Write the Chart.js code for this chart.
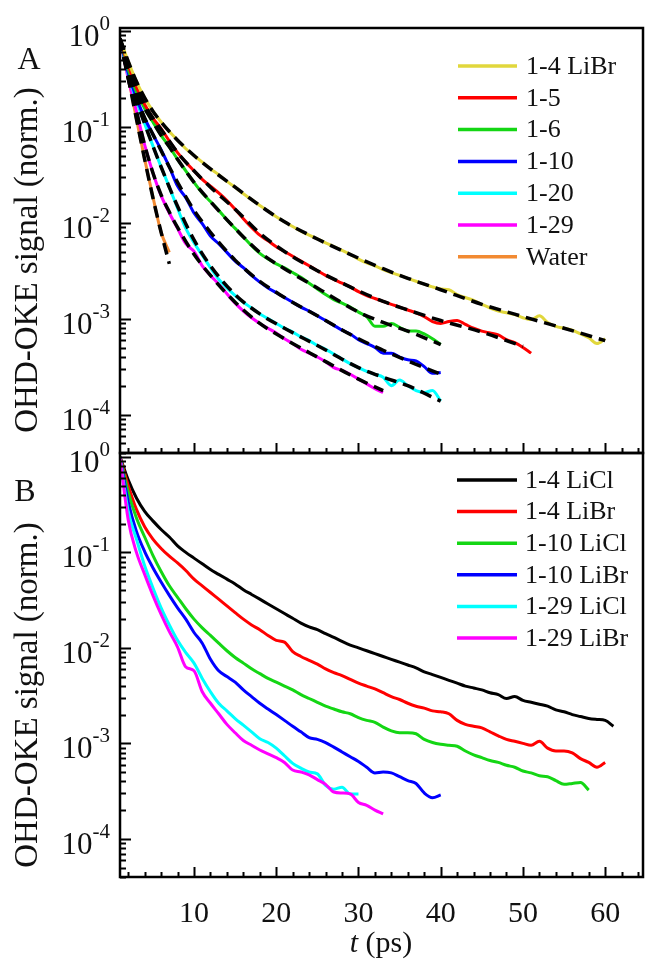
<!DOCTYPE html>
<html>
<head>
<meta charset="utf-8">
<script src="https://cdn.jsdelivr.net/npm/chart.js@4.4.0/dist/chart.umd.min.js"></script>
<style>
  html, body { margin: 0; padding: 0; background: #fff; }
  #wrap { position: relative; width: 648px; height: 961px; overflow: hidden; }
  #wrap canvas { position: absolute; left: 0; }
  #panelA { top: 0; }
  #panelB { top: 440px; }
</style>
</head>
<body>
<div id="wrap">
  <canvas id="panelA" width="648" height="470"></canvas>
  <canvas id="panelB" width="648" height="521"></canvas>
</div>
<script>
// time grid (ps) shared by the measured traces
const tGrid = [1, 2, 3, 4, 5, 6, 7, 8, 9, 10, 11, 12, 13, 14, 15, 16, 17, 18, 19, 20,
  21, 22, 23, 24, 25, 26, 27, 28, 29, 30, 31, 32, 33, 34, 35, 36, 37, 38, 39, 40,
  41, 42, 43, 44, 45, 46, 47, 48, 49, 50, 51, 52, 53, 54, 55, 56, 57, 58, 59, 60, 61];

// time points of the fitted curves
const fitT = [1, 2, 3, 4, 5, 6, 7, 8, 10, 12, 15, 18, 21, 25, 30, 33, 36, 40, 45, 50, 55, 60];

// panel A: LiBr solutions of different concentration + water
const labelsA = ['1-4 LiBr', '1-5', '1-6', '1-10', '1-20', '1-29', 'Water'];
const colorsA = ['#e1d73c', '#ff0000', '#14d614', '#0000ff', '#00ffff', '#ff00ff', '#f28a32'];

const libr4A = [0.83, 0.48, 0.295, 0.200, 0.145, 0.112, 0.0891, 0.0724, 0.0589, 0.0501,
  0.0427, 0.0363, 0.0316, 0.0269, 0.0234, 0.0200, 0.0174, 0.0151, 0.0132, 0.0115,
  0.0102, 9.12e-3, 8.13e-3, 7.41e-3, 6.76e-3, 6.17e-3, 5.62e-3, 5.13e-3, 4.68e-3, 4.17e-3,
  3.80e-3, 3.55e-3, 3.24e-3, 3.02e-3, 2.82e-3, 2.63e-3, 2.45e-3, 2.29e-3, 2.14e-3, 2.04e-3,
  2.00e-3, 1.78e-3, 1.66e-3, 1.55e-3, 1.41e-3, 1.29e-3, 1.20e-3, 1.15e-3, 1.10e-3, 1.02e-3,
  9.77e-4, 1.07e-3, 9.12e-4, 8.32e-4, 7.94e-4, 7.59e-4, 6.92e-4, 6.31e-4, 5.50e-4, 6.17e-4];
const r5A = [0.83, 0.437, 0.257, 0.170, 0.123, 0.0955, 0.0708, 0.0537, 0.0427, 0.0347,
  0.0282, 0.0240, 0.0204, 0.0170, 0.0138, 0.0110, 8.91e-3, 7.41e-3, 6.46e-3, 5.62e-3,
  5.01e-3, 4.47e-3, 3.98e-3, 3.55e-3, 3.16e-3, 2.82e-3, 2.57e-3, 2.34e-3, 2.14e-3, 1.91e-3,
  1.74e-3, 1.62e-3, 1.51e-3, 1.41e-3, 1.32e-3, 1.23e-3, 1.15e-3, 1.05e-3, 9.33e-4, 8.91e-4,
  9.33e-4, 9.55e-4, 8.71e-4, 7.94e-4, 7.41e-4, 7.08e-4, 6.76e-4, 6.03e-4, 5.62e-4, 5.01e-4,
  4.37e-4];
const r6A = [0.83, 0.398, 0.229, 0.155, 0.112, 0.0813, 0.0617, 0.0457, 0.0347, 0.0263,
  0.0204, 0.0166, 0.0135, 0.0107, 8.71e-3, 7.08e-3, 5.75e-3, 4.79e-3, 4.17e-3, 3.72e-3,
  3.39e-3, 3.02e-3, 2.69e-3, 2.34e-3, 2.04e-3, 1.78e-3, 1.58e-3, 1.45e-3, 1.32e-3, 1.17e-3,
  1.05e-3, 8.32e-4, 8.32e-4, 8.91e-4, 8.13e-4, 7.41e-4, 7.41e-4, 6.92e-4, 6.17e-4, 5.37e-4];
const r10A = [0.83, 0.363, 0.200, 0.123, 0.0832, 0.0575, 0.0380, 0.0240, 0.0182, 0.0126,
  9.77e-3, 7.24e-3, 6.03e-3, 4.90e-3, 3.98e-3, 3.39e-3, 2.82e-3, 2.40e-3, 2.09e-3, 1.86e-3,
  1.66e-3, 1.48e-3, 1.32e-3, 1.20e-3, 1.07e-3, 9.55e-4, 8.51e-4, 7.59e-4, 6.92e-4, 6.03e-4,
  5.50e-4, 5.01e-4, 4.37e-4, 4.37e-4, 3.98e-4, 3.72e-4, 3.63e-4, 3.16e-4, 2.69e-4, 2.75e-4];
const r20A = [0.83, 0.347, 0.186, 0.107, 0.0631, 0.0380, 0.0234, 0.0141, 8.71e-3, 6.17e-3,
  4.57e-3, 3.39e-3, 2.57e-3, 2.09e-3, 1.74e-3, 1.48e-3, 1.29e-3, 1.12e-3, 1.00e-3, 8.91e-4,
  7.94e-4, 7.24e-4, 6.46e-4, 5.89e-4, 5.25e-4, 4.79e-4, 4.27e-4, 3.80e-4, 3.39e-4, 3.09e-4,
  2.82e-4, 2.63e-4, 2.45e-4, 2.00e-4, 2.29e-4, 2.00e-4, 1.78e-4, 1.70e-4, 1.78e-4, 1.38e-4];
const r29A = [0.83, 0.316, 0.145, 0.0646, 0.0331, 0.0191, 0.0126, 8.71e-3, 6.03e-3, 5.01e-3,
  3.55e-3, 2.82e-3, 2.29e-3, 1.82e-3, 1.45e-3, 1.20e-3, 1.02e-3, 8.91e-4, 7.94e-4, 7.08e-4,
  6.17e-4, 5.50e-4, 4.79e-4, 4.37e-4, 3.98e-4, 3.55e-4, 3.09e-4, 2.88e-4, 2.63e-4, 2.34e-4,
  2.09e-4, 1.86e-4, 1.70e-4];
const waterA = [0.83, 0.331, 0.120, 0.0457, 0.0186, 7.94e-3, 4.90e-3];

// fitted curves (dashed), sampled on fitT
const libr4Fit = [0.83, 0.48, 0.295, 0.200, 0.145, 0.112, 0.0891, 0.0724, 0.0501, 0.0363, 0.0234,
  0.0151, 0.0102, 6.76e-3, 4.27e-3, 3.31e-3, 2.63e-3, 2.00e-3, 1.41e-3, 1.05e-3, 7.94e-4, 5.89e-4];
const r5Fit = [0.83, 0.437, 0.257, 0.170, 0.123, 0.0933, 0.0708, 0.0537, 0.0347, 0.0234, 0.0138,
  7.76e-3, 5.01e-3, 3.16e-3, 1.95e-3, 1.51e-3, 1.23e-3, 9.55e-4, 7.24e-4, 5.13e-4];
const r6Fit = [0.83, 0.398, 0.229, 0.155, 0.112, 0.0813, 0.0617, 0.0457, 0.0263, 0.0166, 8.71e-3,
  4.90e-3, 3.31e-3, 2.09e-3, 1.17e-3, 9.12e-4, 7.41e-4, 5.37e-4];
const r10Fit = [0.83, 0.363, 0.204, 0.123, 0.0832, 0.0562, 0.0380, 0.0263, 0.0135, 7.94e-3, 4.07e-3,
  2.45e-3, 1.66e-3, 1.07e-3, 6.17e-4, 4.68e-4, 3.63e-4, 2.63e-4];
const r20Fit = [0.83, 0.347, 0.186, 0.107, 0.0631, 0.0380, 0.0234, 0.0148, 6.61e-3, 3.55e-3, 1.78e-3,
  1.12e-3, 7.94e-4, 5.25e-4, 3.09e-4, 2.45e-4, 2.00e-4, 1.38e-4];
const r29Fit = [0.83, 0.316, 0.145, 0.0646, 0.0331, 0.0195, 0.0129, 8.91e-3, 4.68e-3, 2.82e-3, 1.48e-3,
  8.91e-4, 6.17e-4, 3.98e-4, 2.34e-4, 1.78e-4];
const waterFit = [0.83, 0.324, 0.120, 0.0457, 0.0182, 7.94e-3, 3.72e-3];

// panel B: LiCl vs LiBr
const labelsB = ['1-4 LiCl', '1-4 LiBr', '1-10 LiCl', '1-10 LiBr', '1-29 LiCl', '1-29 LiBr'];
const colorsB = ['#000000', '#ff0000', '#14d614', '#0000ff', '#00ffff', '#ff00ff'];

const licl4B = [1.00, 0.575, 0.372, 0.269, 0.214, 0.174, 0.145, 0.117, 0.100, 0.0871,
  0.0759, 0.0661, 0.0589, 0.0525, 0.0468, 0.0407, 0.0363, 0.0324, 0.0288, 0.0257,
  0.0229, 0.0204, 0.0182, 0.0166, 0.0155, 0.0141, 0.0129, 0.0117, 0.0107, 0.0100,
  9.33e-3, 8.71e-3, 8.13e-3, 7.59e-3, 7.08e-3, 6.61e-3, 6.17e-3, 5.62e-3, 5.25e-3, 4.90e-3,
  4.57e-3, 4.27e-3, 3.98e-3, 3.80e-3, 3.63e-3, 3.39e-3, 3.24e-3, 2.95e-3, 3.09e-3, 2.82e-3,
  2.69e-3, 2.57e-3, 2.45e-3, 2.24e-3, 2.14e-3, 2.00e-3, 1.91e-3, 1.82e-3, 1.78e-3, 1.74e-3,
  1.51e-3];
const libr4B = [1.00, 0.501, 0.282, 0.186, 0.138, 0.110, 0.0912, 0.0776, 0.0646, 0.0525,
  0.0447, 0.0380, 0.0324, 0.0275, 0.0234, 0.0200, 0.0174, 0.0155, 0.0135, 0.0120,
  0.0115, 9.12e-3, 8.13e-3, 7.41e-3, 6.76e-3, 6.03e-3, 5.50e-3, 5.13e-3, 4.68e-3, 4.27e-3,
  3.98e-3, 3.72e-3, 3.39e-3, 3.09e-3, 2.88e-3, 2.63e-3, 2.45e-3, 2.34e-3, 2.19e-3, 2.14e-3,
  2.04e-3, 1.74e-3, 1.58e-3, 1.51e-3, 1.45e-3, 1.32e-3, 1.20e-3, 1.10e-3, 1.05e-3, 1.00e-3,
  9.55e-4, 1.05e-3, 8.91e-4, 8.32e-4, 8.32e-4, 7.94e-4, 6.92e-4, 6.31e-4, 5.62e-4, 6.31e-4];
const licl10B = [1.00, 0.427, 0.229, 0.145, 0.0933, 0.0631, 0.0447, 0.0339, 0.0257, 0.0200,
  0.0162, 0.0135, 0.0112, 9.33e-3, 7.94e-3, 6.92e-3, 6.03e-3, 5.37e-3, 4.79e-3, 4.37e-3,
  3.98e-3, 3.63e-3, 3.24e-3, 2.95e-3, 2.69e-3, 2.45e-3, 2.29e-3, 2.14e-3, 2.04e-3, 1.86e-3,
  1.74e-3, 1.66e-3, 1.48e-3, 1.35e-3, 1.29e-3, 1.29e-3, 1.26e-3, 1.10e-3, 1.02e-3, 9.77e-4,
  9.55e-4, 9.33e-4, 8.32e-4, 7.59e-4, 7.08e-4, 6.61e-4, 6.31e-4, 5.89e-4, 5.62e-4, 5.13e-4,
  4.90e-4, 4.57e-4, 4.47e-4, 4.07e-4, 3.72e-4, 3.80e-4, 3.89e-4, 3.24e-4];
const libr10B = [1.00, 0.339, 0.166, 0.102, 0.0692, 0.0490, 0.0355, 0.0263, 0.0200, 0.0145,
  0.0112, 7.59e-3, 5.75e-3, 5.01e-3, 4.37e-3, 3.63e-3, 3.09e-3, 2.63e-3, 2.29e-3, 2.00e-3,
  1.74e-3, 1.51e-3, 1.32e-3, 1.15e-3, 1.10e-3, 1.02e-3, 9.12e-4, 8.13e-4, 7.24e-4, 6.46e-4,
  5.62e-4, 4.90e-4, 5.01e-4, 4.90e-4, 4.47e-4, 4.07e-4, 3.80e-4, 3.02e-4, 2.69e-4, 2.88e-4];
const licl29B = [1.00, 0.269, 0.138, 0.0724, 0.0427, 0.0263, 0.0174, 0.0120, 8.91e-3, 6.92e-3,
  4.79e-3, 3.47e-3, 2.63e-3, 2.19e-3, 1.82e-3, 1.55e-3, 1.32e-3, 1.12e-3, 1.02e-3, 8.91e-4,
  7.41e-4, 6.17e-4, 5.50e-4, 5.01e-4, 4.79e-4, 3.63e-4, 3.31e-4, 3.47e-4, 2.95e-4, 2.95e-4];
const libr29B = [1.00, 0.219, 0.100, 0.0589, 0.0355, 0.0224, 0.0148, 0.0102, 6.31e-3, 5.75e-3,
  3.47e-3, 2.63e-3, 2.04e-3, 1.58e-3, 1.29e-3, 1.07e-3, 9.55e-4, 8.51e-4, 7.76e-4, 7.08e-4,
  6.31e-4, 5.25e-4, 5.01e-4, 4.68e-4, 4.17e-4, 3.72e-4, 3.09e-4, 3.02e-4, 2.95e-4, 2.40e-4,
  2.24e-4, 2.00e-4, 1.82e-4];

// axis ticks
const xMajor = [10, 20, 30, 40, 50, 60];
const yMajor = [1, 1e-1, 1e-2, 1e-3, 1e-4];
const yExp = ['0', '-1', '-2', '-3', '-4'];

const serif = '"Liberation Serif", "Times New Roman", Times, serif';
const ink = '#111';

const toPoints = (ts, vs) => vs.map((v, i) => ({ x: ts[i], y: v }));

// frame, inward ticks, superscript labels, legend and titles
const panelDecor = {
  id: 'panelDecor',
  afterDatasetsDraw(chart, args, opts) {
    const { ctx, chartArea: a } = chart;
    const x = chart.scales.x, y = chart.scales.y;
    ctx.save();

    ctx.strokeStyle = '#000';
    ctx.lineWidth = 2.5;
    ctx.strokeRect(a.left, a.top, a.right - a.left, a.bottom - a.top);

    ctx.lineWidth = 2;
    ctx.beginPath();
    for (let e = 0; e >= -5; e--) {
      for (let m = 1; m <= 9; m++) {
        const v = m * Math.pow(10, e);
        if (v < y.min || v > y.max) continue;
        const py = Math.round(y.getPixelForValue(v)) + 0.5;
        ctx.moveTo(a.left, py);
        ctx.lineTo(a.left + (m === 1 ? 11 : 6), py);
      }
    }
    for (let t = 2; t < x.max; t += 2) {
      const px = Math.round(x.getPixelForValue(t)) + 0.5;
      ctx.moveTo(px, a.bottom);
      ctx.lineTo(px, a.bottom - (t % 10 === 0 ? 10 : 5));
    }
    ctx.stroke();

    // y tick labels 10^n
    ctx.fillStyle = ink;
    ctx.textAlign = 'left';
    ctx.textBaseline = 'alphabetic';
    yMajor.forEach((v, i) => {
      const py = y.getPixelForValue(v);
      ctx.font = `21px ${serif}`;
      const ew = ctx.measureText(yExp[i]).width;
      ctx.font = `31px ${serif}`;
      const bw = ctx.measureText('10').width;
      const x0 = opts.labelRight - ew - bw;
      ctx.fillText('10', x0, py + 15);
      ctx.font = `21px ${serif}`;
      ctx.fillText(yExp[i], x0 + bw, py - 1);
    });

    // legend from the non-fit datasets
    const lg = opts.legend;
    ctx.font = `26px ${serif}`;
    ctx.textBaseline = 'middle';
    chart.data.datasets.filter(ds => !ds.isFit).forEach((ds, i) => {
      const ly = lg.y0 + i * lg.dy;
      ctx.strokeStyle = ds.borderColor;
      ctx.lineWidth = 3.5;
      ctx.beginPath();
      ctx.moveTo(lg.x0, ly);
      ctx.lineTo(lg.x1, ly);
      ctx.stroke();
      ctx.fillStyle = ink;
      ctx.fillText(ds.label, lg.tx, ly + 1);
    });

    // panel letter
    ctx.font = `32px ${serif}`;
    ctx.textAlign = 'center';
    ctx.textBaseline = 'alphabetic';
    ctx.fillText(opts.letter.text, opts.letter.x, opts.letter.y);

    // y title
    ctx.save();
    ctx.translate(opts.yTitle.x, opts.yTitle.y);
    ctx.rotate(-Math.PI / 2);
    ctx.font = `33px ${serif}`;
    ctx.textBaseline = 'middle';
    ctx.fillText('OHD-OKE signal (norm.)', 0, 0);
    ctx.restore();

    // x title with italic t
    if (opts.xTitle) {
      const italic = `italic 30px ${serif}`, plain = `30px ${serif}`;
      ctx.font = italic;
      const w1 = ctx.measureText('t').width;
      ctx.font = plain;
      const w2 = ctx.measureText(' (ps)').width;
      const sx = opts.xTitle.x - (w1 + w2) / 2;
      ctx.textAlign = 'left';
      ctx.font = italic;
      ctx.fillText('t', sx, opts.xTitle.y);
      ctx.font = plain;
      ctx.fillText(' (ps)', sx + w1, opts.xTitle.y);
    }
    ctx.restore();
  }
};

function baseOptions(padding, yMax, decor) {
  return {
    responsive: false,
    animation: false,
    events: [],
    layout: { padding },
    elements: {
      point: { radius: 0 },
      line: { borderWidth: 3, cubicInterpolationMode: 'monotone', borderJoinStyle: 'round' }
    },
    plugins: { legend: { display: false }, tooltip: { enabled: false }, panelDecor: decor },
    scales: {
      x: { type: 'linear', min: 1, max: 64.6, display: false },
      y: { type: 'logarithmic', min: 3.98e-5, max: yMax, display: false }
    }
  };
}

// panel A: measured traces plus dashed fits drawn on top
const dataA = [libr4A, r5A, r6A, r10A, r20A, r29A, waterA];
const fitsA = [libr4Fit, r5Fit, r6Fit, r10Fit, r20Fit, r29Fit, waterFit];

const datasetsA = dataA.map((vals, i) => ({
  label: labelsA[i],
  data: toPoints(tGrid, vals),
  borderColor: colorsA[i],
  order: 2
})).concat(fitsA.map((vals, i) => ({
  label: labelsA[i] + ' fit',
  isFit: true,
  data: toPoints(fitT, vals),
  borderColor: '#000',
  borderWidth: 3.5,
  borderDash: [12, 7],
  order: 1
})));

new Chart(document.getElementById('panelA'), {
  type: 'line',
  data: { datasets: datasetsA },
  options: baseOptions({ left: 120, right: 5, top: 28, bottom: 17 }, 1.067, {
    labelRight: 110,
    legend: { x0: 458, x1: 517, tx: 526, y0: 66, dy: 31.8 },
    letter: { text: 'A', x: 29, y: 69 },
    yTitle: { x: 28, y: 260 }
  }),
  plugins: [panelDecor]
});

// panel B
const dataB = [licl4B, libr4B, licl10B, libr10B, licl29B, libr29B];
const datasetsB = dataB.map((vals, i) => ({
  label: labelsB[i],
  data: toPoints(tGrid, vals),
  borderColor: colorsB[i],
  order: dataB.length - i
}));

const optsB = baseOptions({ left: 120, right: 5, top: 13, bottom: 0 }, 1.10, {
  labelRight: 110,
  legend: { x0: 457, x1: 517, tx: 525, y0: 40, dy: 31.6 },
  letter: { text: 'B', x: 25, y: 61 },
  yTitle: { x: 28, y: 255 },
  xTitle: { x: 381, y: 512 }
});
optsB.scales.x = {
  type: 'linear', min: 1, max: 64.6, display: true,
  grid: { display: false, drawTicks: false },
  border: { display: false },
  afterBuildTicks: s => { s.ticks = xMajor.map(v => ({ value: v })); },
  afterFit: s => { s.height = 84; },
  ticks: { font: { family: serif, size: 30 }, color: ink, padding: 19, maxRotation: 0, autoSkip: false }
};

new Chart(document.getElementById('panelB'), {
  type: 'line',
  data: { datasets: datasetsB },
  options: optsB,
  plugins: [panelDecor]
});
</script>
</body>
</html>
